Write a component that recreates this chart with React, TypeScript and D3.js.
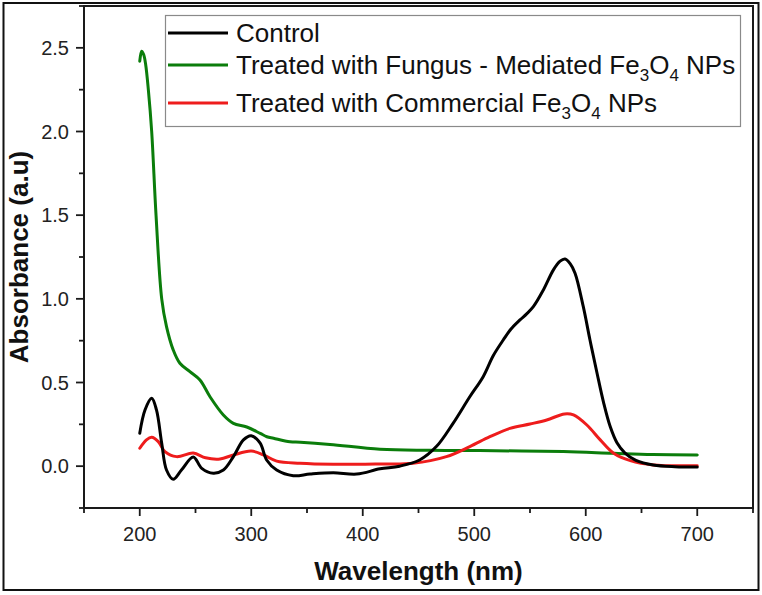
import React from "react";
import * as d3 from "d3";

const controlWl = [200, 204.7, 210.7, 215, 219.7, 224, 230, 237.4, 248, 255.6, 266, 275, 284, 293, 300, 308, 313.8, 322.8, 337.7, 352.7, 373.6, 394.6, 415.5, 433, 451, 466, 481, 496, 508, 517, 526, 533, 541, 547, 553, 562, 571, 577, 581.4, 586, 590.4, 597.8, 603.8, 610, 616, 622, 628, 635, 645, 660.6, 680, 700];
const controlAbs = [0.197, 0.336, 0.406, 0.336, 0.137, -0.023, -0.078, -0.023, 0.055, -0.013, -0.042, -0.023, 0.057, 0.157, 0.182, 0.137, 0.037, -0.023, -0.057, -0.047, -0.039, -0.047, -0.016, 0, 0.037, 0.117, 0.256, 0.415, 0.535, 0.66, 0.754, 0.82, 0.874, 0.91, 0.953, 1.053, 1.173, 1.225, 1.238, 1.21, 1.153, 0.953, 0.754, 0.56, 0.38, 0.235, 0.14, 0.08, 0.035, 0.007, -0.003, -0.005];

const fungusWl = [200, 201.7, 203.5, 205.3, 207.7, 210.7, 214.6, 219.7, 224, 230, 236, 245, 254, 263, 275, 284, 296, 308, 314, 320, 334.7, 344, 370.6, 415.5, 460, 505, 580, 625, 660, 700];
const fungusAbs = [2.42, 2.48, 2.46, 2.4, 2.25, 2.0, 1.5, 1.0, 0.834, 0.695, 0.615, 0.565, 0.515, 0.415, 0.306, 0.256, 0.234, 0.196, 0.176, 0.167, 0.146, 0.143, 0.13, 0.101, 0.095, 0.093, 0.087, 0.077, 0.07, 0.067];

const commercialWl = [200, 206, 210.7, 216.6, 222.6, 233, 248, 259, 272, 284, 300, 311, 322.8, 343.7, 373.6, 415.5, 445, 475, 496, 514, 532, 550, 565, 581, 589, 601, 613, 625, 640, 660.6, 700];
const commercialAbs = [0.107, 0.157, 0.173, 0.147, 0.087, 0.057, 0.078, 0.05, 0.043, 0.067, 0.09, 0.067, 0.03, 0.017, 0.011, 0.013, 0.017, 0.057, 0.117, 0.176, 0.226, 0.252, 0.276, 0.312, 0.306, 0.246, 0.157, 0.077, 0.033, 0.007, 0.003];

const xMajorTicks = [200, 300, 400, 500, 600, 700];
const xMinorTicks = [150, 250, 350, 450, 550, 650, 750];
const yMajorTicks = [0, 0.5, 1.0, 1.5, 2.0, 2.5];
const yMinorTicks = [-0.25, 0.25, 0.75, 1.25, 1.75, 2.25, 2.75];

const legendColors = ["#000000", "#0b7d0b", "#ee1c1c"];
const legendLabels = [
  [{ t: "Control", sub: false }],
  [
    { t: "Treated with Fungus - Mediated Fe", sub: false },
    { t: "3", sub: true },
    { t: "O", sub: false },
    { t: "4", sub: true },
    { t: " NPs", sub: false },
  ],
  [
    { t: "Treated with Commercial Fe", sub: false },
    { t: "3", sub: true },
    { t: "O", sub: false },
    { t: "4", sub: true },
    { t: " NPs", sub: false },
  ],
];

const xLabel = "Wavelength (nm)";
const yLabel = "Absorbance (a.u)";

export default function App() {
  const W = 762;
  const H = 595;
  const left = 84, right = 753, top = 6, bottom = 508;
  const x = d3.scaleLinear().domain([150, 750]).range([left, right]);
  const y = d3.scaleLinear().domain([-0.25, 2.75]).range([bottom, top]);
  const line = d3
    .line<[number, number]>()
    .x((d) => x(d[0]))
    .y((d) => y(d[1]))
    .curve(d3.curveCatmullRom.alpha(0.5));

  const series = [
    { wl: fungusWl, ab: fungusAbs, color: legendColors[1] },
    { wl: commercialWl, ab: commercialAbs, color: legendColors[2] },
    { wl: controlWl, ab: controlAbs, color: legendColors[0] },
  ];

  const font = "'Liberation Sans', Arial, sans-serif";
  const axisColor = "#1a1a1a";

  return (
    <svg
      width={W}
      height={H}
      style={{ position: "absolute", left: 0, top: 0, background: "#fff" }}
      fontFamily={font}
    >
      <rect x={0} y={0} width={W} height={H} fill="#fff" />
      <rect x={3.5} y={3} width={755} height={587} fill="none" stroke="#111" strokeWidth={2} />

      {/* curves */}
      <g fill="none" strokeWidth={3} strokeLinejoin="round" strokeLinecap="round">
        {series.map((s, i) => (
          <path
            key={i}
            d={line(s.wl.map((w, j) => [w, s.ab[j]] as [number, number])) || ""}
            stroke={s.color}
          />
        ))}
      </g>

      {/* frame */}
      <rect
        x={left}
        y={top}
        width={right - left}
        height={bottom - top}
        fill="none"
        stroke={axisColor}
        strokeWidth={2}
      />

      {/* ticks */}
      <g stroke={axisColor} strokeWidth={1.8}>
        {xMajorTicks.map((t) => (
          <line key={"xM" + t} x1={x(t)} x2={x(t)} y1={bottom} y2={bottom + 8} />
        ))}
        {xMinorTicks.map((t) => (
          <line key={"xm" + t} x1={x(t)} x2={x(t)} y1={bottom} y2={bottom + 5} />
        ))}
        {yMajorTicks.map((t) => (
          <line key={"yM" + t} x1={left - 8} x2={left} y1={y(t)} y2={y(t)} />
        ))}
        {yMinorTicks.map((t) => (
          <line key={"ym" + t} x1={left - 5} x2={left} y1={y(t)} y2={y(t)} />
        ))}
      </g>

      <g fontSize={20} fill="#222">
        {xMajorTicks.map((t) => (
          <text key={"xl" + t} x={x(t)} y={541} textAnchor="middle">
            {String(t)}
          </text>
        ))}
        {yMajorTicks.map((t) => (
          <text key={"yl" + t} x={69} y={y(t)} dy="0.35em" textAnchor="end">
            {t.toFixed(1)}
          </text>
        ))}
      </g>

      <text x={(left + right) / 2} y={580} textAnchor="middle" fontSize={26} fontWeight="bold" fill="#111">
        {xLabel}
      </text>
      <text
        transform={`translate(28,${(top + bottom) / 2}) rotate(-90)`}
        textAnchor="middle"
        fontSize={26}
        fontWeight="bold"
        fill="#111"
      >
        {yLabel}
      </text>

      {/* legend */}
      <rect x={165.5} y={15.5} width={575} height={111} fill="#fff" stroke="#8a8a8a" strokeWidth={1.2} />
      {legendLabels.map((parts, i) => {
        const baselines = [42, 74, 112];
        const by = baselines[i];
        return (
          <g key={"lg" + i}>
            <line x1={168} x2={228} y1={by - 9} y2={by - 9} stroke={legendColors[i]} strokeWidth={3} />
            <text x={236} y={by} fontSize={26} fill="#111" style={{ whiteSpace: "pre" }}>
              {parts.map((p, k) => {
                const prevSub = k > 0 && parts[k - 1].sub;
                let dy = 0;
                if (p.sub && !prevSub) dy = 7;
                if (!p.sub && prevSub) dy = -7;
                return (
                  <tspan key={k} dy={dy} fontSize={p.sub ? 17 : 26}>
                    {p.t}
                  </tspan>
                );
              })}
            </text>
          </g>
        );
      })}
    </svg>
  );
}
